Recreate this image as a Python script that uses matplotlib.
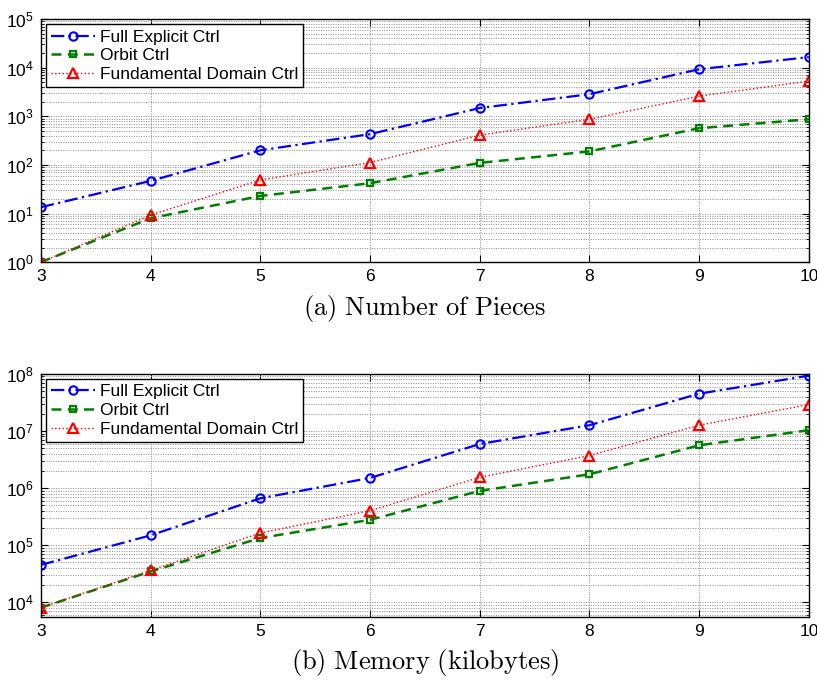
import numpy as np
import matplotlib
matplotlib.use('Agg')
import matplotlib.pyplot as plt
from matplotlib.ticker import LogLocator, NullFormatter

matplotlib.rcParams['font.family'] = ['Liberation Sans', 'DejaVu Sans']
matplotlib.rcParams['mathtext.fontset'] = 'custom'
matplotlib.rcParams['mathtext.rm'] = 'Liberation Sans'
matplotlib.rcParams['mathtext.it'] = 'Liberation Sans:italic'
matplotlib.rcParams['mathtext.bf'] = 'Liberation Sans:bold'

# puzzle size
sizes = [3, 4, 5, 6, 7, 8, 9, 10]

# (a) number of pieces
pieces_full = [13.5, 47, 200, 430, 1480, 2850, 9300, 16500]
pieces_orbit = [1, 8, 23, 42, 110, 190, 570, 870]
pieces_fund = [1, 9.3, 49, 112, 410, 870, 2600, 5300]

# (b) memory in kilobytes
mem_full = [45000, 148000, 660000, 1.5e6, 5.9e6, 1.26e7, 4.5e7, 9.3e7]
mem_orbit = [8000, 34500, 1.33e5, 2.77e5, 8.9e5, 1.74e6, 5.6e6, 1.03e7]
mem_fund = [8000, 36000, 1.63e5, 4.0e5, 1.54e6, 3.7e6, 1.26e7, 2.9e7]

labels = ['Full Explicit Ctrl', 'Orbit Ctrl', 'Fundamental Domain Ctrl']
captions = ['(a) Number of Pieces', '(b) Memory (kilobytes)']

fig = plt.figure(figsize=(8.17, 6.81), dpi=100)
ax1 = fig.add_axes([0.050, 0.615, 0.940, 0.357])
ax2 = fig.add_axes([0.050, 0.094, 0.940, 0.357])

grid_style = dict(ls=(0, (1, 1.5)), color='#8c8c8c', lw=0.7)


def draw(ax, full, orbit, fund, ylim, caption):
    ax.plot(sizes, full, color='#0000ff', ls='-.', lw=1.6, marker='o', ms=6,
            mfc='none', mew=1.5, label=labels[0], dashes=(6, 2, 1, 2))
    ax.plot(sizes, orbit, color='#008000', ls='--', lw=1.8, marker='s', ms=5,
            mfc='none', mew=1.6, label=labels[1], dashes=(4, 2.5))
    ax.plot(sizes, fund, color='#ff0000', ls=':', lw=1.0, marker='^', ms=7,
            mfc='none', mew=1.6, label=labels[2])
    ax.set_yscale('log')
    ax.set_xlim(3, 10)
    ax.set_ylim(*ylim)
    ax.set_xticks(sizes)
    ax.yaxis.set_major_locator(LogLocator(base=10, numticks=20))
    ax.yaxis.set_minor_locator(LogLocator(base=10, subs=np.arange(2, 10), numticks=20))
    ax.yaxis.set_minor_formatter(NullFormatter())
    ax.grid(True, which='major', **grid_style)
    ax.grid(True, which='minor', axis='y', **grid_style)
    ax.set_axisbelow(True)
    ax.tick_params(direction='in', which='both', top=True, right=True,
                   labelsize=12.5, pad=5)
    ax.tick_params(which='major', length=5)
    ax.tick_params(which='minor', length=2.5)
    for s in ax.spines.values():
        s.set_linewidth(1.0)
    leg = ax.legend(loc='upper left', fontsize=12.5, fancybox=False,
                    edgecolor='black', framealpha=1, borderpad=0.3,
                    labelspacing=0.2, handlelength=2.5, handletextpad=0.3,
                    borderaxespad=0.3)
    leg.get_frame().set_linewidth(1.0)
    ax.text(0.5, -0.125, r'$\mathrm{' + caption.replace(' ', r'\ ') + '}$',
            transform=ax.transAxes, ha='center', va='top', fontsize=19,
            math_fontfamily='cm')


draw(ax1, pieces_full, pieces_orbit, pieces_fund, (1, 1e5), captions[0])
draw(ax2, mem_full, mem_orbit, mem_fund, (5.5e3, 1e8), captions[1])

plt.savefig('out.png', dpi=100)
